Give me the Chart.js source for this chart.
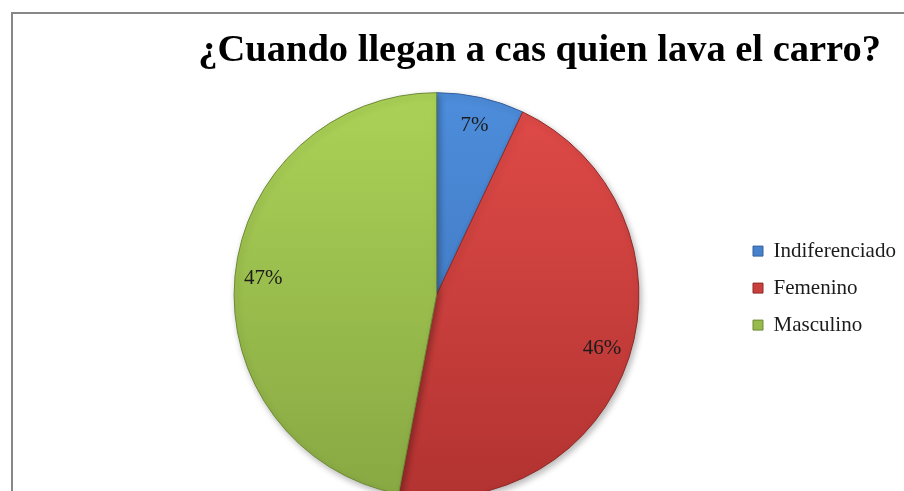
<!DOCTYPE html>
<html>
<head>
<meta charset="utf-8">
<script src="https://cdn.jsdelivr.net/npm/chart.js@4/dist/chart.umd.min.js"></script>
<style>
  html, body { margin: 0; padding: 0; background: #ffffff; overflow: hidden; width: 904px; height: 491px; }
  #wrap { position: relative; width: 904px; height: 491px; overflow: hidden; }
  canvas { display: block; }
</style>
</head>
<body>
<div id="wrap"><canvas id="c" width="904" height="510" style="width:904px;height:510px"></canvas></div>
<script>
const titleText = '¿Cuando llegan a cas quien lava el carro?';
const categories = ['Indiferenciado', 'Femenino', 'Masculino'];
const values = [7, 46, 47];
const valueLabels = ['7%', '46%', '47%'];

const colorTop = ['#4d8ddb', '#e04b48', '#abd257'];
const colorBottom = ['#3c6fb6', '#b23331', '#88a843'];
const borderColors = ['#35609c', '#8f2a28', '#6e8a35'];

const serif = "'Liberation Serif', 'Times New Roman', serif";

function sliceFill(ctx) {
  const chart = ctx.chart;
  const i = ctx.dataIndex;
  const area = chart.chartArea;
  if (!area || i === undefined) return colorTop[i || 0];
  const g = chart.ctx.createLinearGradient(0, area.top, 0, area.bottom);
  g.addColorStop(0, colorTop[i]);
  g.addColorStop(1, colorBottom[i]);
  return g;
}

const framePlugin = {
  id: 'frame',
  beforeDraw(chart) {
    const c = chart.ctx;
    c.save();
    c.fillStyle = '#ffffff';
    c.fillRect(0, 0, chart.width, chart.height);
    c.strokeStyle = '#878787';
    c.lineWidth = 2;
    c.strokeRect(12, 13, 1400, 900);
    c.restore();
  }
};

// align legend block with the plot area (slightly above its middle) and let text run past the clip
const legendPlace = {
  id: 'legendPlace',
  afterLayout(chart) {
    const lg = chart.legend;
    const a = chart.chartArea;
    if (lg && a) {
      const h = lg.height;
      lg.top = a.top - 7;
      lg.bottom = a.bottom - 7;
      lg.height = lg.bottom - lg.top;
      lg.right += 40;
      lg.width += 40;
    }
  }
};

const shadowPlugin = {
  id: 'pieShadow',
  beforeDatasetsDraw(chart) {
    const c = chart.ctx;
    c.save();
    c.shadowColor = 'rgba(0,0,0,0.28)';
    c.shadowBlur = 6;
    c.shadowOffsetX = 2;
    c.shadowOffsetY = 3;
  },
  afterDatasetsDraw(chart) {
    chart.ctx.restore();
  }
};

const valueLabelPlugin = {
  id: 'valueLabels',
  afterDatasetsDraw(chart) {
    const c = chart.ctx;
    const meta = chart.getDatasetMeta(0);
    c.save();
    c.font = '21px ' + serif;
    c.fillStyle = '#1b1b1b';
    c.textAlign = 'center';
    c.textBaseline = 'middle';
    meta.data.forEach((arc, i) => {
      const p = arc.getProps(['x', 'y', 'startAngle', 'endAngle', 'outerRadius'], true);
      const mid = (p.startAngle + p.endAngle) / 2;
      const r = p.outerRadius * 0.86;
      c.fillText(valueLabels[i], p.x + Math.cos(mid) * r, p.y + Math.sin(mid) * r);
    });
    c.restore();
  }
};

new Chart(document.getElementById('c'), {
  type: 'pie',
  data: {
    labels: categories,
    datasets: [{
      data: values,
      backgroundColor: sliceFill,
      borderColor: borderColors,
      borderWidth: 1
    }]
  },
  options: {
    responsive: false,
    animation: false,
    layout: { padding: { top: 0, left: 136, right: 23, bottom: 12 } },
    plugins: {
      title: {
        display: true,
        text: titleText,
        align: 'end',
        color: '#000000',
        font: { family: serif, size: 38.5, weight: 'bold', lineHeight: 1.2 },
        padding: { top: 28, bottom: 18 }
      },
      legend: {
        display: true,
        position: 'right',
        align: 'center',
        maxWidth: 144,
        labels: {
          boxWidth: 10,
          boxHeight: 10,
          padding: 16,
          color: '#1b1b1b',
          font: { family: serif, size: 21 }
        }
      },
      tooltip: { enabled: false }
    }
  },
  plugins: [framePlugin, legendPlace, shadowPlugin, valueLabelPlugin]
});
</script>
</body>
</html>
